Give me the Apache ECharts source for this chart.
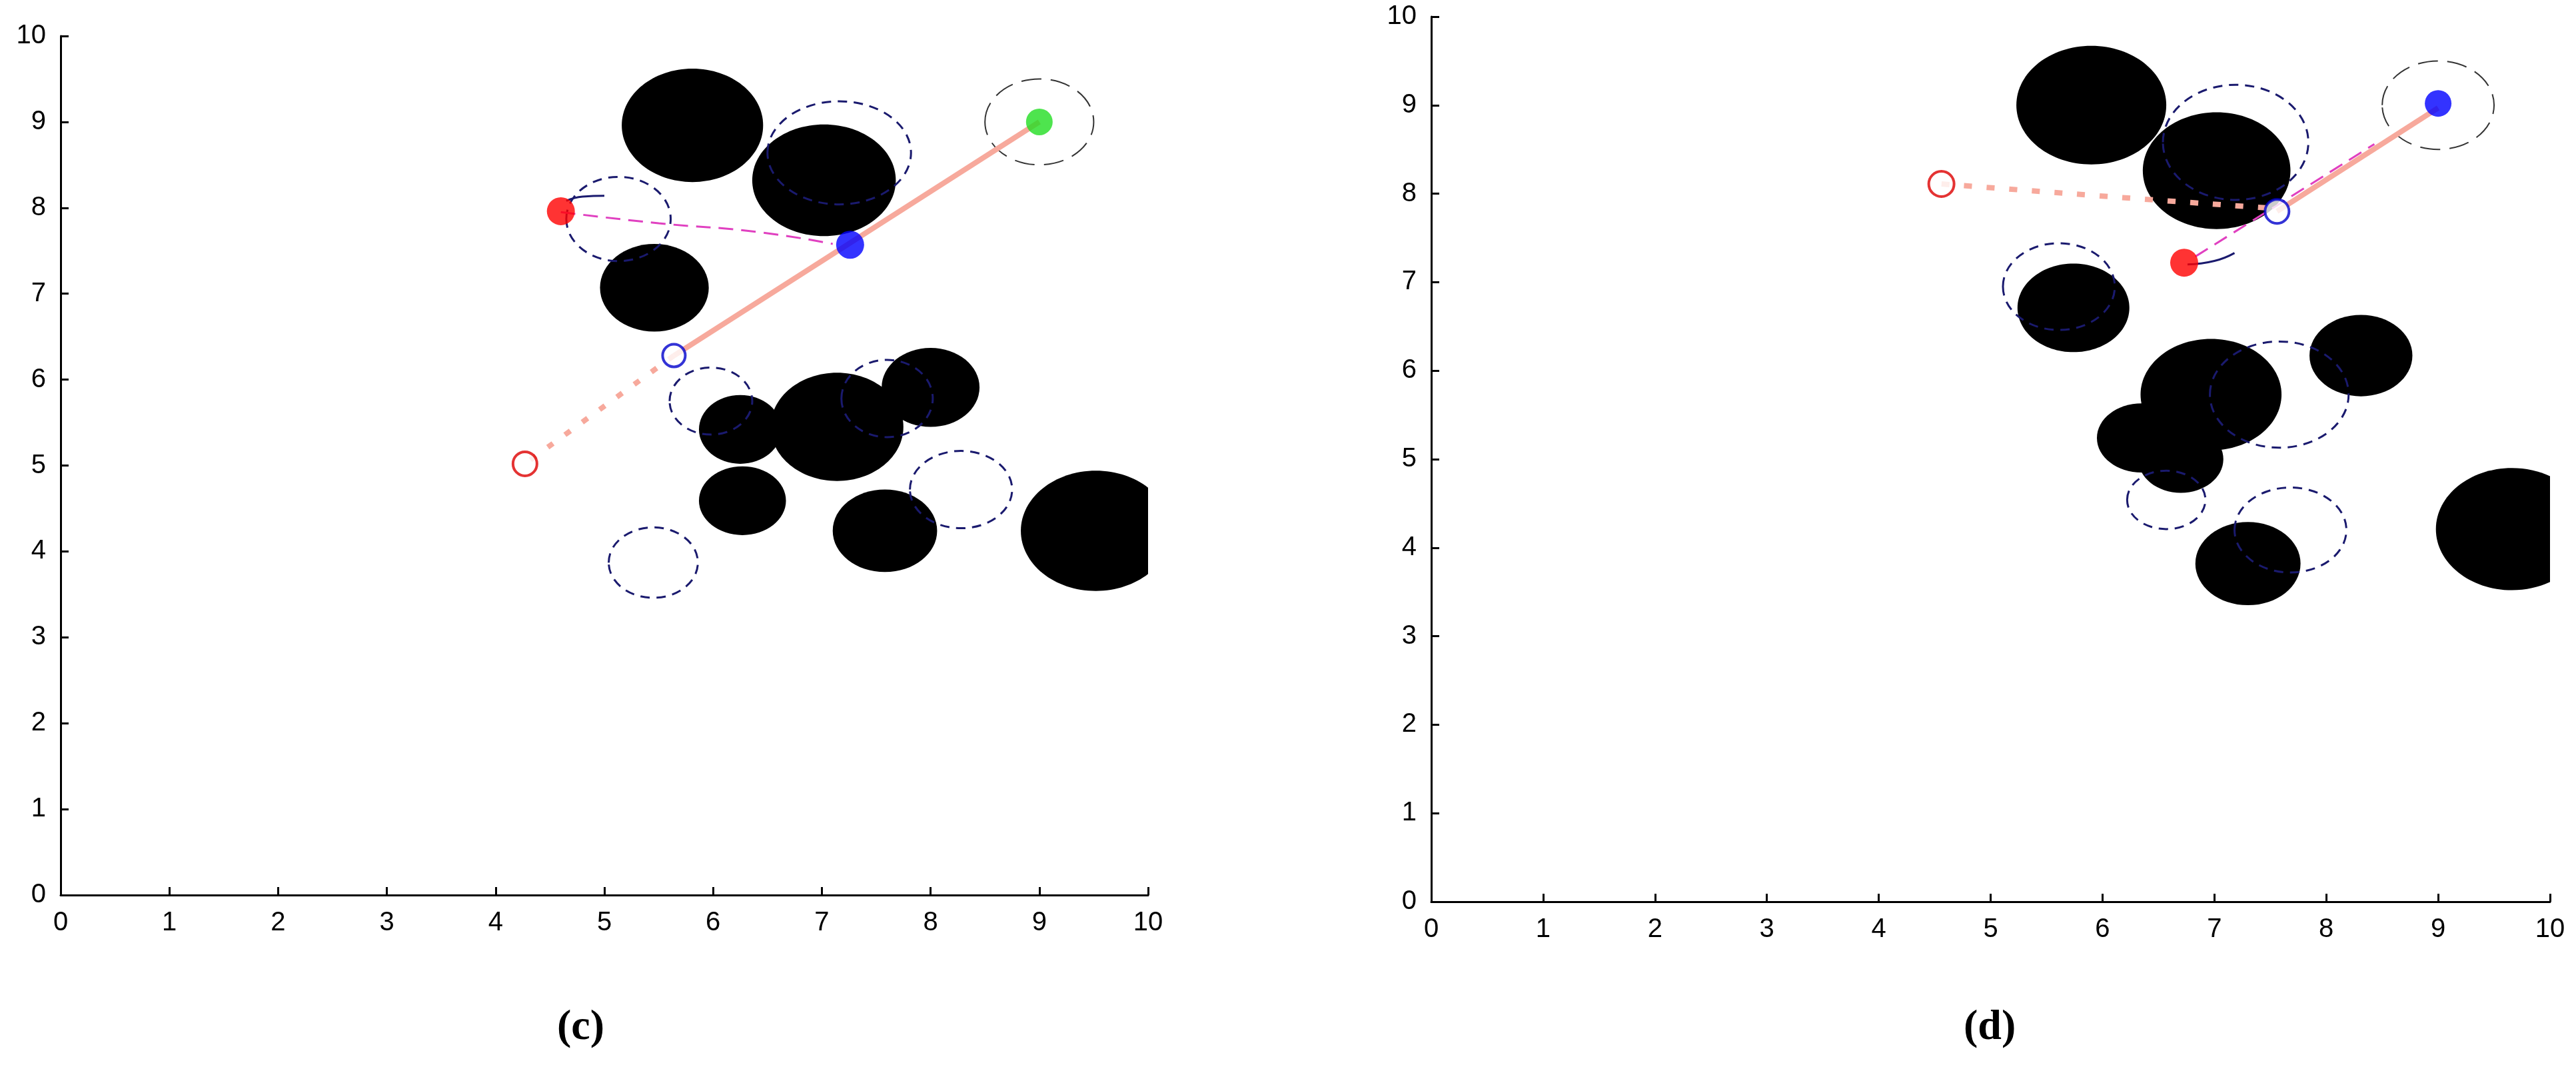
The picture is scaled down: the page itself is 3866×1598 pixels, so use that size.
<!DOCTYPE html>
<html><head><meta charset="utf-8">
<script src="https://cdn.jsdelivr.net/npm/echarts@6/dist/echarts.min.js"></script>
<style>html,body{margin:0;background:#fff}#c{width:3866px;height:1598px}</style>
</head><body><div id="c"></div>
<script>
const ticks = [0,1,2,3,4,5,6,7,8,9,10];
// obstacles [cx, cy, rx, ry]
const obstaclesC = [[5.81,8.96,0.65,0.66],[7.02,8.32,0.66,0.65],[5.46,7.07,0.5,0.51],[6.25,5.42,0.38,0.4],[7.14,5.45,0.61,0.63],[8.0,5.91,0.45,0.46],[6.27,4.59,0.4,0.4],[7.58,4.24,0.48,0.48],[9.52,4.24,0.69,0.7]];
const predictedC = [[7.16,8.64,0.66,0.6],[5.13,7.87,0.48,0.49],[5.98,5.75,0.38,0.39],[7.6,5.78,0.42,0.45],[8.28,4.72,0.47,0.45],[5.45,3.87,0.41,0.41]];
const goalRingC = [[9.0,9.0,0.5,0.5]];
const obstaclesD = [[5.9,9.0,0.67,0.67],[7.02,8.26,0.66,0.66],[5.74,6.71,0.5,0.5],[6.97,5.73,0.63,0.63],[6.35,5.24,0.4,0.39],[6.7,5.0,0.38,0.38],[8.31,6.17,0.46,0.46],[7.3,3.82,0.47,0.47],[9.66,4.21,0.68,0.69]];
const predictedD = [[7.19,8.58,0.65,0.65],[5.61,6.95,0.5,0.49],[7.58,5.73,0.62,0.6],[6.57,4.54,0.35,0.33],[7.68,4.2,0.5,0.48]];
const goalRingD = [[9.0,9.0,0.5,0.5]];
// paths
const solidPathC = [[9.0,9.0],[5.64,6.28]];
const dottedPathC = [[5.64,6.28],[4.27,5.02]];
const magentaPathC = [[4.6,7.95],[5.5,7.82],[6.4,7.72],[7.1,7.58]];
const navyArcC = [[4.65,8.08],[4.8,8.13],[5.0,8.14]];
const solidPathD = [[9.0,8.97],[7.56,7.8]];
const dashedPathD = [[7.46,7.84],[6.35,7.94],[4.56,8.11]];
const magentaPathD = [[6.83,7.29],[7.6,7.9],[8.43,8.56]];
const navyArcD = [[6.76,7.2],[7.0,7.24],[7.18,7.33]];
// markers
const greenC = [[9.0,9.0]], blueFilledC = [[7.26,7.57]], redFilledC = [[4.6,7.96]], blueOpenC = [[5.64,6.28]], redOpenC = [[4.27,5.02]];
const blueFilledD = [[9.0,9.02]], blueOpenD = [[7.56,7.8]], redFilledD = [[6.73,7.22]], redOpenD = [[4.56,8.11]];

const axisCommon = {min:0,max:10,interval:1,splitLine:{show:false},
  axisLine:{lineStyle:{color:'#000',width:3}},axisTick:{inside:true,length:12,lineStyle:{color:'#000',width:3}},
  axisLabel:{color:'#000',fontSize:40,fontFamily:'Liberation Sans',margin:22}};
function ell(gi,data,fill,stroke,dash,lw,z){
  return {type:'custom',xAxisIndex:gi,yAxisIndex:gi,clip:true,z:z,data:data,
    renderItem:function(p,api){const c=api.coord([api.value(0),api.value(1)]);const s=api.size([api.value(2),api.value(3)]);
      return {type:'ellipse',shape:{cx:c[0],cy:c[1],rx:s[0],ry:s[1]},
        style:{fill:fill,stroke:stroke,lineWidth:lw,lineDash:dash}};}};
}
function line(gi,data,color,w,type,z){return {type:'line',xAxisIndex:gi,yAxisIndex:gi,data:data,symbol:'none',smooth:true,z:z,lineStyle:{color:color,width:w,type:type}};}
function pt(gi,data,color,open,size){return {type:'scatter',xAxisIndex:gi,yAxisIndex:gi,data:data,symbolSize:size,z:10,
  itemStyle:open?{color:'#fff',borderColor:color,borderWidth:4}:{color:color}};}
function panel(gi,d){
  return [ell(gi,d.obs,'#000',null,null,0,2),ell(gi,d.pred,'none','#1a1a6e',[14,10],3,3),ell(gi,d.ring,'none','#333',[30,14],2,3)];
}
const series = [].concat(
  panel(0,{obs:obstaclesC,pred:predictedC,ring:goalRingC}),
  panel(1,{obs:obstaclesD,pred:predictedD,ring:goalRingD}),
  [line(0,solidPathC,'#f7a99c',8,'solid',5),line(0,dottedPathC,'#f7a99c',8,[10,22],5),
   line(0,magentaPathC,'#e040c0',3,[22,12],5),line(0,navyArcC,'#1a1a6e',3,'solid',5),
   line(1,solidPathD,'#f7a99c',8,'solid',5),line(1,dashedPathD,'#f7a99c',8,[12,22],5),
   line(1,magentaPathD,'#e040c0',3,[22,12],5),line(1,navyArcD,'#1a1a6e',3,'solid',5),
   pt(0,greenC,'#22dd22',false,40),pt(0,blueFilledC,'#0000ff',false,42),pt(0,redFilledC,'#ff0000',false,42),
   pt(0,blueOpenC,'#0000cc',true,34),pt(0,redOpenC,'#dd0000',true,36),
   pt(1,blueFilledD,'#0000ff',false,40),pt(1,blueOpenD,'#0000cc',true,36),pt(1,redFilledD,'#ff0000',false,42),pt(1,redOpenD,'#dd0000',true,38)]
);
const chart = echarts.init(document.getElementById('c'));
chart.setOption({
  animation:false,backgroundColor:'#fff',
  grid:[{left:91,right:2143,top:54,bottom:255},{left:2148,right:39,top:25,bottom:245}],
  xAxis:[Object.assign({gridIndex:0,type:'value'},axisCommon),Object.assign({gridIndex:1,type:'value'},axisCommon)],
  yAxis:[Object.assign({gridIndex:0,type:'value'},axisCommon),Object.assign({gridIndex:1,type:'value'},axisCommon)],
  graphic:[{type:'text',left:876-40,top:1510,style:{text:'(c)',font:'bold 64px "Liberation Serif"',fill:'#000'}},
           {type:'text',left:2987-40,top:1510,style:{text:'(d)',font:'bold 64px "Liberation Serif"',fill:'#000'}}],
  series:series
});
</script></body></html>
